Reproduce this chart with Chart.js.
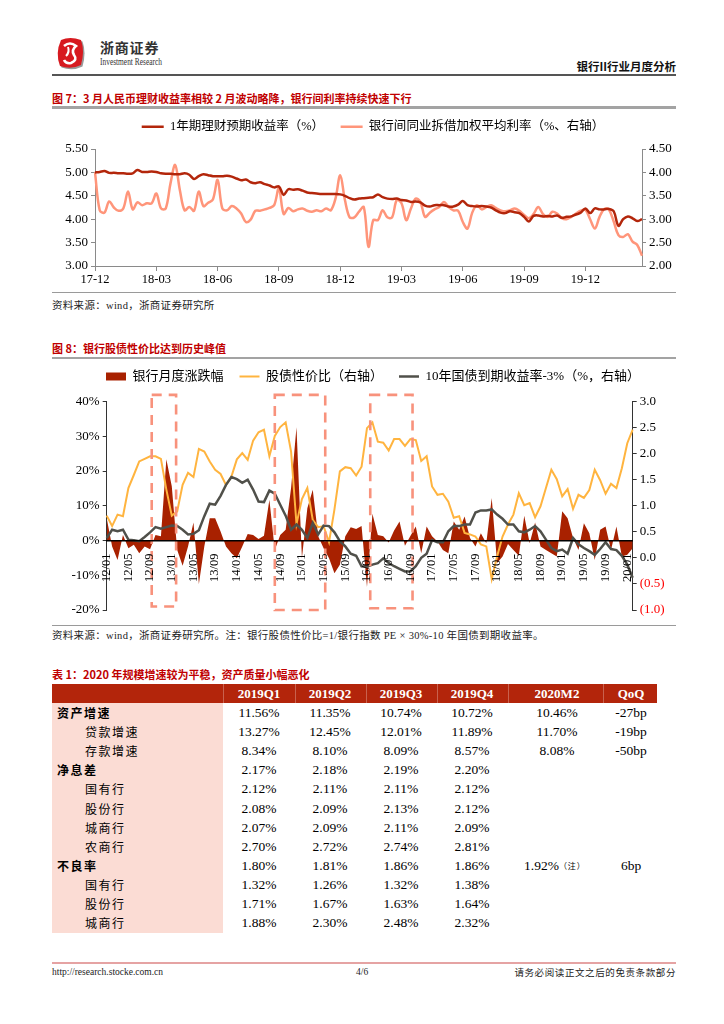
<!DOCTYPE html>
<html lang="zh-CN">
<head>
<meta charset="utf-8">
<title>银行II行业月度分析</title>
<script src="https://cdn.jsdelivr.net/npm/chart.js@4.4.1/dist/chart.umd.min.js"></script>
<style>
html,body{margin:0;padding:0;background:#fff;}
body{width:724px;height:1024px;position:relative;overflow:hidden;font-family:"Liberation Serif","Noto Sans CJK SC",serif;color:#000;}
.a{position:absolute;white-space:nowrap;}
.cjk{font-family:"Noto Sans CJK SC",sans-serif;}
.ttl{position:absolute;left:52px;font-family:"Noto Sans CJK SC",sans-serif;font-weight:700;font-size:11px;line-height:14px;color:#C00000;white-space:nowrap;}
.rule{position:absolute;left:52px;width:624px;}
.src{position:absolute;left:52px;font-family:"Liberation Serif","Noto Sans CJK SC",serif;font-size:10.5px;line-height:13px;color:#222;white-space:nowrap;letter-spacing:0.3px;}
canvas{position:absolute;}
.cell{position:absolute;width:100px;text-align:center;font-size:13.5px;line-height:18px;white-space:nowrap;}
.hcell{position:absolute;width:100px;text-align:center;font-size:13px;line-height:18px;font-weight:700;color:#fff;white-space:nowrap;}
.lbl{position:absolute;font-family:"Noto Sans CJK SC",sans-serif;font-size:12px;line-height:18px;letter-spacing:1.5px;white-space:nowrap;}
</style>
</head>
<body>

<!-- page header -->
<svg class="a" style="left:54px;top:36px" width="32" height="34" viewBox="0 0 32 34">
  <path d="M7 4 Q16 0 27 4 Q31 15 27 29 Q17 34 6 30 Q1 17 7 4Z" fill="#9a9a9a" transform="translate(1.5,1.5)"/>
  <path d="M7 4 Q16 0 27 4 Q31 15 27 29 Q17 34 6 30 Q1 17 7 4Z" fill="#D71A20"/>
  <path d="M10 10 Q16 5 22 10 Q17 14 20 19 Q24 24 17 27 Q12 28 10 24" fill="none" stroke="#fff" stroke-width="2.6"/>
  <path d="M14 11 Q16 16 12 20" fill="none" stroke="#fff" stroke-width="2"/>
</svg>
<div class="a cjk" style="left:100px;top:38px;font-size:14px;font-weight:700;letter-spacing:0.8px;line-height:18px;color:#333">浙商证券</div>
<div class="a" style="left:100px;top:57px;font-size:9.5px;line-height:10px;transform:scaleX(0.78);transform-origin:left top;color:#333">Investment Research</div>
<div class="a cjk" style="right:48px;top:59px;font-size:11.5px;font-weight:700;line-height:14px;color:#111">银行II行业月度分析</div>
<div class="rule" style="top:74px;height:1.5px;background:#555"></div>

<!-- figure 7 -->
<div class="ttl" style="top:91px">图 7：3 月人民币理财收益率相较 2 月波动略降，银行间利率持续快速下行</div>
<div class="rule" style="top:106px;height:2.5px;background:#a3a3a3"></div>
<canvas id="c1" width="666" height="186" style="left:40px;top:104px;width:666px;height:186px"></canvas>
<div class="rule" style="top:292px;height:1px;background:#9a9a9a"></div>
<div class="src" style="top:299px">资料来源：wind，浙商证券研究所</div>

<!-- figure 8 -->
<div class="ttl" style="top:341px">图 8：银行股债性价比达到历史峰值</div>
<div class="rule" style="top:356.5px;height:2.5px;background:#a3a3a3"></div>
<canvas id="c2" width="666" height="268" style="left:40px;top:354px;width:666px;height:268px"></canvas>
<div class="rule" style="top:624.5px;height:1px;background:#9a9a9a"></div>
<div class="src" style="top:629px">资料来源：wind，浙商证券研究所。注：银行股债性价比=1/银行指数 PE × 30%-10 年国债到期收益率。</div>

<!-- table 1 -->
<div class="ttl" style="top:667px">表 1：2020 年规模增速较为平稳，资产质量小幅恶化</div>
<div id="tbl"></div>

<!-- footer -->
<div class="rule" style="top:962px;height:1.5px;background:#e5a3a3"></div>
<div class="a" style="left:52px;top:966px;font-size:9.5px;line-height:13px;color:#222">http://research.stocke.com.cn</div>
<div class="a" style="left:356px;top:966px;font-size:9.5px;line-height:13px;color:#222">4/6</div>
<div class="a cjk" style="right:48px;top:966px;font-size:9.5px;line-height:13px;letter-spacing:0.6px;color:#222">请务必阅读正文之后的免责条款部分</div>

<script>
// ---------------- Figure 7 data (weekly, Dec-2017 .. Feb-2020) ----------------
const quarterLabels = ['17-12','18-03','18-06','18-09','18-12','19-03','19-06','19-09','19-12'];
const wealthYield = [
  5.00,5.01,5.03,4.99,4.99,4.98,4.98,4.97,4.98,5.05,
  5.01,5.01,5.02,5.01,4.98,4.97,4.97,4.96,4.96,4.98,
  4.95,4.86,4.92,4.96,4.94,4.92,4.92,4.92,4.93,4.91,
  4.87,4.83,4.85,4.79,4.77,4.79,4.75,4.72,4.68,4.70,
  4.52,4.64,4.63,4.64,4.61,4.57,4.56,4.55,4.54,4.54,
  4.54,4.54,4.53,4.50,4.45,4.42,4.44,4.45,4.46,4.47,
  4.53,4.47,4.44,4.43,4.44,4.41,4.40,4.37,4.38,4.36,
  4.29,4.27,4.30,4.30,4.30,4.27,4.27,4.31,4.39,4.30,
  4.28,4.27,4.28,4.27,4.25,4.19,4.14,4.13,4.17,4.15,
  4.13,4.05,3.95,4.07,4.08,4.06,4.07,4.06,4.08,4.03,
  4.05,4.06,4.10,4.14,4.23,4.13,4.23,4.21,4.21,4.22,
  4.17,3.86,4.00,4.06,4.02,3.96,4.00
];
const interbankRate = [
  4.00,3.19,3.14,3.38,3.25,3.18,3.23,3.59,3.21,3.36,
  3.30,3.34,3.34,3.55,3.23,3.23,3.76,4.16,3.62,3.19,
  3.26,3.18,3.59,3.28,3.35,3.42,3.84,3.23,3.19,3.28,
  3.23,3.12,2.94,2.99,3.18,3.18,3.21,3.24,3.30,3.66,
  3.11,3.24,3.17,3.21,3.23,3.18,3.16,3.19,3.17,3.23,
  3.19,3.44,3.94,3.41,3.04,3.04,3.16,3.26,2.41,2.98,
  2.98,3.19,3.04,3.04,3.41,3.34,2.98,3.23,3.44,3.37,
  3.05,3.14,3.21,3.26,3.37,3.26,3.19,3.18,2.94,2.80,
  3.14,3.30,3.21,3.26,3.30,3.24,3.19,3.17,3.19,3.23,
  3.18,3.09,3.02,3.11,3.26,3.11,3.05,3.16,3.12,3.02,
  3.00,3.05,3.12,3.18,3.20,3.00,2.80,3.05,3.22,3.20,
  2.95,2.66,2.62,2.68,2.52,2.45,2.22
];
const WEEKS_PER_TICK = 13;
const weekLabels = wealthYield.map((_, i) => (i % WEEKS_PER_TICK === 0 && quarterLabels[i / WEEKS_PER_TICK]) ? quarterLabels[i / WEEKS_PER_TICK] : '');

// ---------------- Figure 8 data (monthly, 2012/01 .. 2020/02) ----------------
const monthLabels = [];
for (let yy = 12; yy <= 20; yy++) {
  for (let mm = 1; mm <= 12; mm++) {
    if (yy === 20 && mm > 2) break;
    monthLabels.push(yy + '/' + String(mm).padStart(2, '0'));
  }
}
const bankMonthlyChange = [
  6.4,-1.7,-5.6,1.6,-2.2,-1.2,-3.7,-1.7,-2.5,1.6,
  1.2,23.4,15.6,-2.7,-7.3,-1.7,5.2,-12.5,-1.7,6.4,
  6.4,2.6,-1.7,-3.7,-5.1,-1.7,1.9,1.6,0.4,1.4,
  11.7,-2.7,1.6,3.1,15.1,32.6,-5.1,9.3,14.6,1.2,
  -2.2,-5.1,-9.4,-7.0,1.2,3.8,3.3,4.2,-13.4,7.7,
  1.6,1.2,-0.6,2.9,5.5,-1.5,1.3,4.0,-3.7,4.0,
  1.2,-0.3,-2.7,-3.7,5.5,3.1,6.9,0.7,-1.7,2.1,
  -0.8,12.2,-6.5,-4.6,-1.0,-2.7,-4.4,7.1,-0.8,5.2,
  -1.7,-2.7,-3.7,-4.6,8.4,6.4,0.7,-2.7,5.0,2.1,
  -5.6,3.1,4.0,-2.7,4.0,-4.6,-4.1,-2.2
];
const stockBondRatio = [
  0.81,0.61,0.83,0.80,1.34,1.59,1.85,1.90,1.95,1.95,
  1.90,1.31,0.81,0.89,1.40,1.63,1.55,2.09,2.04,1.85,
  1.69,1.61,1.40,1.56,1.89,2.01,1.88,2.25,2.41,2.46,
  1.95,2.34,2.51,2.60,2.04,0.65,1.13,1.34,0.73,0.59,
  0.61,0.30,0.93,1.66,1.74,1.72,1.58,1.75,2.49,2.60,
  2.23,2.21,2.06,2.28,2.28,2.15,2.28,2.26,1.86,1.95,
  1.37,1.21,1.23,1.08,0.77,0.80,0.48,0.45,0.41,0.26,
  0.22,-0.41,0.03,0.41,0.64,0.83,1.24,1.01,1.05,0.78,
  0.99,1.34,1.69,1.51,1.18,1.32,0.94,1.21,1.15,1.30,
  1.69,1.49,1.23,1.42,1.34,1.72,2.20,2.46
];
const bondYieldMinus3 = [
  0.38,0.54,0.51,0.54,0.35,0.34,0.32,0.40,0.49,0.59,
  0.56,0.59,0.62,0.61,0.54,0.45,0.46,0.53,0.80,1.04,
  1.02,1.19,1.40,1.55,1.51,1.44,1.50,1.31,1.08,1.07,
  1.29,1.23,1.02,0.81,0.54,0.64,0.54,0.38,0.67,0.45,
  0.62,0.61,0.49,0.32,0.22,0.08,0.04,-0.16,-0.17,-0.13,
  -0.10,-0.01,-0.10,-0.16,-0.21,-0.26,-0.26,-0.16,0.00,0.08,
  0.34,0.30,0.30,0.51,0.61,0.61,0.64,0.64,0.87,0.91,
  0.91,0.93,0.83,0.75,0.64,0.64,0.51,0.49,0.54,0.61,
  0.51,0.35,0.19,0.13,0.16,0.08,0.38,0.26,0.19,0.13,
  0.06,0.17,0.30,0.17,0.15,0.04,-0.13,-0.38
];
// highlighted periods (category index range, left-axis % range)
const highlightBoxes = [
  {from: 8.3, to: 12.8, top: 41.9, bottom: -19.0},
  {from: 31.0, to: 40.3, top: 41.9, bottom: -20.0},
  {from: 48.6, to: 56.4, top: 41.9, bottom: -19.5}
];

// ---------------- Table 1 data ----------------
const tableCols = ['2019Q1','2019Q2','2019Q3','2019Q4','2020M2','QoQ'];
const rowLabels = ['资产增速','贷款增速','存款增速','净息差','国有行','股份行','城商行','农商行','不良率','国有行','股份行','城商行'];
const rowIsGroup = [true,false,false,true,false,false,false,false,true,false,false,false];
const val2019Q1 = ['11.56%','13.27%','8.34%','2.17%','2.12%','2.08%','2.07%','2.70%','1.80%','1.32%','1.71%','1.88%'];
const val2019Q2 = ['11.35%','12.45%','8.10%','2.18%','2.11%','2.09%','2.09%','2.72%','1.81%','1.26%','1.67%','2.30%'];
const val2019Q3 = ['10.74%','12.01%','8.09%','2.19%','2.11%','2.13%','2.11%','2.74%','1.86%','1.32%','1.63%','2.48%'];
const val2019Q4 = ['10.72%','11.89%','8.57%','2.20%','2.12%','2.12%','2.09%','2.81%','1.86%','1.38%','1.64%','2.32%'];
const val2020M2 = ['10.46%','11.70%','8.08%','','','','','','1.92%','','',''];
const noteM2    = ['','','','','','','','','（注）','','',''];
const valQoQ    = ['-27bp','-19bp','-50bp','','','','','','6bp','','',''];

// ---------------- rendering ----------------
const SERIF = '"Liberation Serif", "Times New Roman", serif';
const MIXED = '"Liberation Serif", "Noto Sans CJK SC", sans-serif';

new Chart(document.getElementById('c1'), {
  type: 'line',
  data: {
    labels: weekLabels,
    datasets: [
      {label: '1年期理财预期收益率（%）', data: wealthYield, yAxisID: 'y',
       borderColor: '#B3260B', backgroundColor: '#B3260B', borderWidth: 2.5,
       pointRadius: 0, pointStyle: 'line', tension: 0.35, fill: false},
      {label: '银行间同业拆借加权平均利率（%、右轴）', data: interbankRate, yAxisID: 'y1',
       borderColor: '#FF957A', backgroundColor: '#FF957A', borderWidth: 2.5,
       pointRadius: 0, pointStyle: 'line', tension: 0.35, fill: false}
    ]
  },
  options: {
    responsive: false, animation: false, events: [],
    layout: {padding: 0},
    plugins: {
      legend: {display: true, position: 'top', weight: 3000,
        labels: {usePointStyle: true, pointStyleWidth: 22, padding: 16.5, color: '#000',
                 font: {family: MIXED, size: 12.5}}},
      title: {display: true, text: '', weight: 500, padding: {top: 0, bottom: 0}, font: {size: 5}},
      tooltip: {enabled: false}
    },
    scales: {
      x: {
        type: 'category', offset: false,
        afterFit: s => { s.height = 24; },
        border: {display: true, color: '#8a8a8a', width: 1},
        grid: {display: true, drawOnChartArea: false, drawTicks: true, tickLength: 5,
               color: c => (c.index % WEEKS_PER_TICK === 0 ? '#8a8a8a' : 'rgba(0,0,0,0)')},
        ticks: {autoSkip: false, maxRotation: 0, minRotation: 0, padding: 1, color: '#000',
                font: {family: SERIF, size: 12.5}, callback: (v, i) => weekLabels[i]}
      },
      y: {
        position: 'left', min: 3, max: 5.5,
        afterFit: s => { s.width = 55; },
        border: {display: true, color: '#8a8a8a', width: 1},
        grid: {drawOnChartArea: false, tickLength: 4, color: '#8a8a8a'},
        ticks: {stepSize: 0.5, padding: 3, color: '#000', font: {family: SERIF, size: 13},
                callback: v => Number(v).toFixed(2)}
      },
      y1: {
        position: 'right', min: 2, max: 4.5,
        afterFit: s => { s.width = 64; },
        border: {display: true, color: '#8a8a8a', width: 1},
        grid: {drawOnChartArea: false, tickLength: 4, color: '#8a8a8a'},
        ticks: {stepSize: 0.5, padding: 3, color: '#000', font: {family: SERIF, size: 13},
                callback: v => Number(v).toFixed(2)}
      }
    }
  }
});

const boxPlugin = {
  id: 'highlightBoxes',
  afterDatasetsDraw(chart) {
    const {ctx} = chart;
    const xs = chart.scales.x, ys = chart.scales.y;
    ctx.save();
    ctx.strokeStyle = '#F8927C';
    ctx.lineWidth = 2.6;
    ctx.setLineDash([10, 7]);
    highlightBoxes.forEach(b => {
      const x0 = xs.getPixelForValue(b.from), x1 = xs.getPixelForValue(b.to);
      const y0 = ys.getPixelForValue(b.top), y1 = ys.getPixelForValue(b.bottom);
      ctx.strokeRect(x0, y0, x1 - x0, y1 - y0);
    });
    ctx.restore();
  }
};

new Chart(document.getElementById('c2'), {
  type: 'line',
  data: {
    labels: monthLabels,
    datasets: [
      {label: '银行月度涨跌幅', data: bankMonthlyChange, yAxisID: 'y', order: 3,
       borderColor: '#A82100', backgroundColor: '#A82100', borderWidth: 0,
       pointRadius: 0, pointStyle: 'rect', tension: 0, fill: 'origin'},
      {label: '股债性价比（右轴）', data: stockBondRatio, yAxisID: 'y1', order: 2,
       borderColor: '#FFB43F', backgroundColor: '#FFB43F', borderWidth: 2,
       pointRadius: 0, pointStyle: 'line', tension: 0, fill: false},
      {label: '10年国债到期收益率-3%（%，右轴）', data: bondYieldMinus3, yAxisID: 'y1', order: 1,
       borderColor: '#50504A', backgroundColor: '#50504A', borderWidth: 2.5,
       pointRadius: 0, pointStyle: 'line', tension: 0, fill: false}
    ]
  },
  options: {
    responsive: false, animation: false, events: [],
    layout: {padding: {top: 0, left: 0, right: 0, bottom: 12}},
    plugins: {
      legend: {display: true, position: 'top', weight: 3000,
        labels: {usePointStyle: true, pointStyleWidth: 20, boxHeight: 8, padding: 16, color: '#000',
                 font: {family: MIXED, size: 13},
                 sort: (a, b) => a.datasetIndex - b.datasetIndex}},
      title: {display: true, text: '', weight: 500, padding: {top: 0, bottom: 2.5}, font: {size: 5}},
      tooltip: {enabled: false}
    },
    scales: {
      x: {
        type: 'category', offset: false, position: {y: 0},
        border: {display: true, color: '#000', width: 1.5, z: 1},
        grid: {display: false},
        ticks: {autoSkip: false, minRotation: 90, maxRotation: 90, padding: 5, z: 1, color: '#000',
                font: {family: SERIF, size: 12.5},
                callback: (v, i) => (i % 4 === 0 ? monthLabels[i] : '')}
      },
      y: {
        position: 'left', min: -20, max: 40,
        afterFit: s => { s.width = 66.7; },
        border: {display: true, color: '#333', width: 1},
        grid: {drawOnChartArea: false, tickLength: 4, color: '#333'},
        ticks: {stepSize: 10, padding: 3, color: '#000', font: {family: SERIF, size: 13},
                callback: v => v + '%'}
      },
      y1: {
        position: 'right', min: -1, max: 3,
        afterFit: s => { s.width = 73.3; },
        border: {display: true, color: '#333', width: 1},
        grid: {drawOnChartArea: false, tickLength: 4, color: '#333'},
        ticks: {stepSize: 0.5, padding: 3, font: {family: SERIF, size: 13},
                color: c => (c.tick && c.tick.value < 0 ? '#FF0000' : '#000'),
                callback: v => (v < 0 ? '(' + (-v).toFixed(1) + ')' : Number(v).toFixed(1))}
      }
    }
  },
  plugins: [boxPlugin]
});

// table
(function buildTable() {
  const root = document.getElementById('tbl');
  const HEAD_TOP = 684, HEAD_H = 19.3, ROW0 = 713.3, ROW_H = 19.04;
  const colCenters = [259, 330, 401, 472, 557, 631];
  const seps = [222.5, 295, 366, 437, 508, 603];
  let html = '';
  html += `<div class="a" style="left:52px;top:${HEAD_TOP}px;width:605px;height:${HEAD_H}px;background:#B3250B"></div>`;
  seps.forEach(x => { html += `<div class="a" style="left:${x}px;top:${HEAD_TOP}px;width:1px;height:${HEAD_H}px;background:rgba(255,255,255,0.28)"></div>`; });
  html += `<div class="a" style="left:52px;top:${HEAD_TOP + HEAD_H}px;width:170.5px;height:${ROW0 + ROW_H * 11.5 - HEAD_TOP - HEAD_H + 0.5}px;background:#FBDCD4"></div>`;
  tableCols.forEach((c, j) => {
    html += `<div class="hcell" style="left:${colCenters[j] - 50}px;top:${HEAD_TOP + HEAD_H / 2 - 9}px">${c}</div>`;
  });
  const cols = [val2019Q1, val2019Q2, val2019Q3, val2019Q4];
  rowLabels.forEach((lab, i) => {
    const cy = ROW0 + ROW_H * i;
    const top = cy - 9;
    html += `<div class="lbl" style="left:${rowIsGroup[i] ? 57 : 85}px;top:${top}px;font-weight:${rowIsGroup[i] ? 700 : 400}">${lab}</div>`;
    cols.forEach((arr, j) => {
      html += `<div class="cell" style="left:${colCenters[j] - 50}px;top:${top}px">${arr[i]}</div>`;
    });
    if (val2020M2[i]) {
      if (noteM2[i]) {
        html += `<div class="a" style="left:524px;top:${top}px;font-size:13.5px;line-height:18px">${val2020M2[i]}<span class="cjk" style="font-size:8px;vertical-align:1px;letter-spacing:1px">${noteM2[i]}</span></div>`;
      } else {
        html += `<div class="cell" style="left:${colCenters[4] - 50}px;top:${top}px">${val2020M2[i]}</div>`;
      }
    }
    if (valQoQ[i]) {
      html += `<div class="cell" style="left:${colCenters[5] - 50}px;top:${top}px">${valQoQ[i]}</div>`;
    }
  });
  root.innerHTML = html;
})();
</script>
</body>
</html>
